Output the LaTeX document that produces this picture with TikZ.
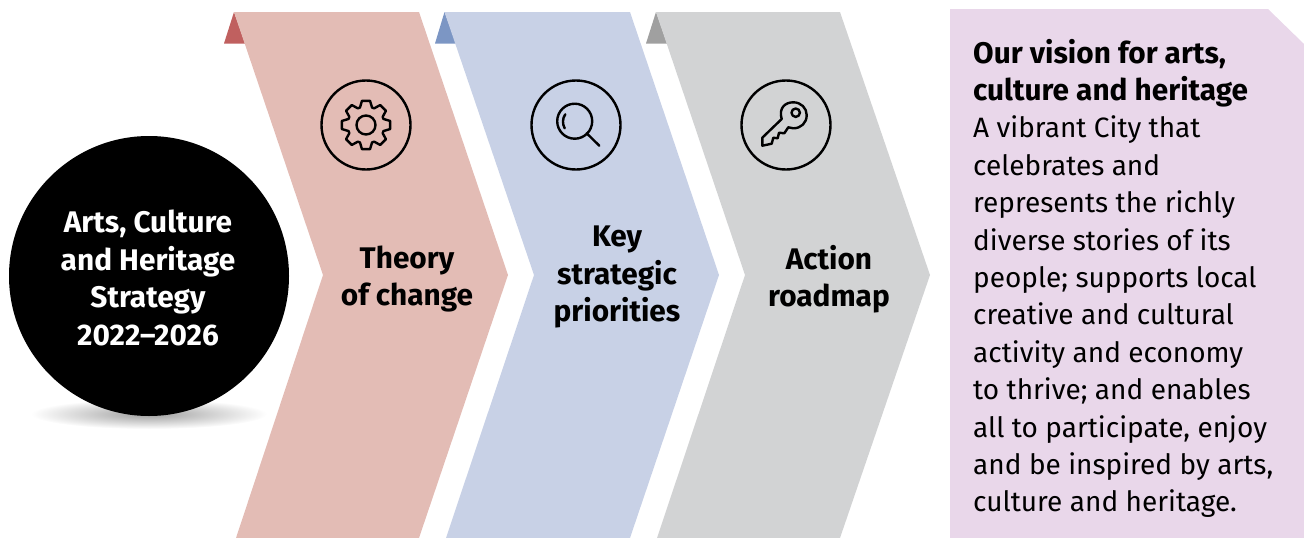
\documentclass[tikz,border=0pt]{standalone}
\usepackage{fontspec}
\setmainfont{Fira Sans}
\usetikzlibrary{calc}
\definecolor{redband}{HTML}{E3BCB5}
\definecolor{blueband}{HTML}{C8D1E6}
\definecolor{greyband}{HTML}{D2D3D4}
\definecolor{redtip}{HTML}{C0605F}
\definecolor{bluetip}{HTML}{7C96C4}
\definecolor{greytip}{HTML}{A0A0A0}
\definecolor{panel}{HTML}{E9D7EA}
\tikzset{
  x=1pt,y=-1pt,
  bandtext/.style={align=center,font=\fontsize{29.8}{37.4}\selectfont\bfseries,text=black,inner sep=0pt},
  iconline/.style={draw=black,line width=2.4pt,line join=round,line cap=round},
}
\begin{document}
\begin{tikzpicture}
\useasboundingbox (0,0) rectangle (1304,538);
% shadow and disc
\shade[inner color=black!38,outer color=white] (149,414) ellipse [x radius=118,y radius=15];
\node[circle,fill=black,minimum size=280pt,inner sep=0pt] (disc) at (149,276) {};
\node[bandtext,text=white] (disclabel) at (148,278) {Arts, Culture\\and Heritage\\Strategy\\2022–2026};
% tips
\fill[redtip] (234,12) -- (224,43.5) -- (245,43.5) -- cycle;
\fill[bluetip] (444.5,12) -- (435,43.5) -- (456,43.5) -- cycle;
\fill[greytip] (656,12) -- (646,43.5) -- (667,43.5) -- cycle;
% chevrons
\fill[redband] (234,12) -- (419,12) -- (508,275) -- (419,538) -- (236,538) -- (323,275) -- cycle;
\fill[blueband] (444.5,12) -- (630,12) -- (719,275) -- (630,538) -- (446,538) -- (534,275) -- cycle;
\fill[greyband] (656,12) -- (840,12) -- (930,275) -- (840,538) -- (657,538) -- (745,275) -- cycle;
% labels
\node[bandtext] (l1) at (407,279) {Theory\\of change};
\node[bandtext] (l2) at (617,277) {Key\\strategic\\priorities};
\node[bandtext] (l3) at (829,279) {Action\\roadmap};
% icon rings
\node[circle,iconline,minimum size=89pt,inner sep=0pt] (ring1) at (366,125) {};
\node[circle,iconline,minimum size=89pt,inner sep=0pt] (ring2) at (576,125) {};
\node[circle,iconline,minimum size=89pt,inner sep=0pt] (ring3) at (786,125) {};
% gear
\begin{scope}[shift={(366,125)}]
\draw[iconline] (0,0) circle [radius=9.5];
\draw[iconline] \foreach \a in {0,45,...,315} {
  (\a-19:18.5pt) -- (\a-9.5:24.5pt) -- (\a+9.5:24.5pt) -- (\a+19:18.5pt) -- (\a+26:18.5pt)
  -- (\a+35.5:24.5pt) };
\end{scope}
% magnifier
\draw[iconline] (574.7,121.2) circle [radius=17.5];
\draw[iconline] (586.7,133.3) -- (599.3,145.7);
\draw[iconline] (565.3,114.3) .. controls (562.3,118.5) and (562.3,124) .. (564.7,128.3);
% key
\draw[iconline] (781.7,119) .. controls (778.5,108) and (785,102.3) .. (793.3,102.3)
  .. controls (801,102.3) and (806.7,108) .. (806.7,115)
  .. controls (806.7,123) and (801,128.3) .. (793.3,128.3)
  -- (788.3,127.3) -- (784.3,133.3) -- (779,132.7) -- (777.7,138.3) -- (773.3,137.7)
  -- (771.7,143.7) -- (762.3,145.7) -- (762.3,137.7) -- cycle;
\draw[iconline] (795.7,112.7) circle [radius=4.2];
% panel
\fill[panel] (950,9) -- (1268,9) -- (1304,44) -- (1304,538) -- (950,538) -- cycle;
\node[anchor=north west,align=left,inner sep=0pt,font=\fontsize{28}{37.4}\selectfont] (vision) at (973,38.7) {{\fontsize{29.8}{37.4}\selectfont\bfseries Our vision for arts,}\\{\fontsize{29.8}{37.4}\selectfont\bfseries culture and heritage}\\A vibrant City that\\celebrates and\\represents the richly\\diverse stories of its\\people; supports local\\creative and cultural\\activity and economy\\to thrive; and enables\\all to participate, enjoy\\and be inspired by arts,\\culture and heritage.};
\end{tikzpicture}
\end{document}
